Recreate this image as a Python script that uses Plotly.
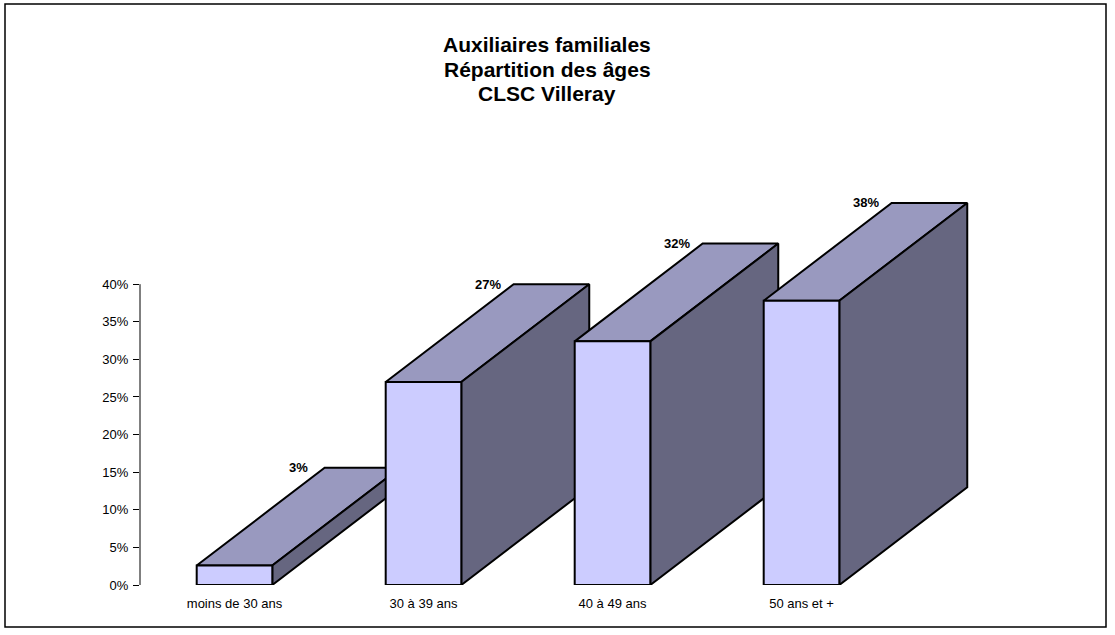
import plotly.graph_objects as go

# ---- data ----
categories = ["moins de 30 ans", "30 à 39 ans", "40 à 49 ans", "50 ans et +"]
values = [2.6, 27.0, 32.4, 37.8]          # percent
value_labels = [f"{round(v)}%" for v in values]
y_ticks = [0, 5, 10, 15, 20, 25, 30, 35, 40]
y_ticktext = [f"{t}%" for t in y_ticks]
title_lines = ["Auxiliaires familiales", "Répartition des âges", "CLSC Villeray"]

# ---- style / geometry ----
W, H = 1115, 635
ML, MR, MT, MB = 140, 30, 171, 50
PW, PH = W - ML - MR, H - MT - MB
XRANGE = [-0.5, 4.5]
YRANGE = [0, 55.05]
HALF_W = 0.2          # half bar width in category units
DX = 0.677            # depth offset in x (category units)
DY = 13.0             # depth offset in y (percent units)
FRONT = "#CCCCFF"
TOP = "#9999BF"
SIDE = "#666680"
EDGE = "black"
FONT = "Liberation Sans, Arial, sans-serif"


def px_x(p):
    return (p - ML) / PW


def px_y(p):
    return (H - MB - p) / PH


fig = go.Figure()


def poly(xs, ys, color):
    fig.add_trace(go.Scatter(
        x=xs + [xs[0]], y=ys + [ys[0]], mode="lines", fill="toself",
        fillcolor=color, line=dict(color=EDGE, width=2),
        hoverinfo="skip", showlegend=False))


for i, v in enumerate(values):
    x0, x1 = i - HALF_W, i + HALF_W
    poly([x0, x1, x1 + DX, x0 + DX], [v, v, v + DY, v + DY], TOP)     # top face
    poly([x1, x1 + DX, x1 + DX, x1], [0, DY, v + DY, v], SIDE)        # side face
    poly([x0, x1, x1, x0], [0, 0, v, v], FRONT)                       # front face
    fig.add_annotation(x=x0 + DX, y=v + DY, text=f"<b>{value_labels[i]}</b>",
                       showarrow=False, xanchor="center", yanchor="middle",
                       xshift=-26, font=dict(family=FONT, size=13, color="black"))

# y axis line from 0 to the last tick
fig.add_shape(type="line", xref="paper", yref="y", x0=0, x1=0,
              y0=y_ticks[0], y1=y_ticks[-1], line=dict(color="black", width=1))

# outer frame
fig.add_shape(type="rect", xref="paper", yref="paper",
              x0=px_x(5), x1=px_x(1106), y0=px_y(627), y1=px_y(4),
              line=dict(color="black", width=1.5), layer="below")

# title, one annotation per line
for t, yc in zip(title_lines, [45, 69, 93]):
    fig.add_annotation(xref="paper", yref="paper", x=px_x(547), y=px_y(yc),
                       text=f"<b>{t}</b>", showarrow=False,
                       xanchor="center", yanchor="middle",
                       font=dict(family=FONT, size=21, color="black"))

fig.update_layout(
    width=W, height=H, autosize=False,
    margin=dict(l=ML, r=MR, t=MT, b=MB),
    paper_bgcolor="white", plot_bgcolor="rgba(0,0,0,0)",
    font=dict(family=FONT, size=13, color="black"),
    xaxis=dict(range=XRANGE, tickvals=list(range(len(categories))), ticktext=categories,
               showgrid=False, zeroline=False, showline=False, ticks="",
               ticklabelstandoff=9, tickfont=dict(size=13), fixedrange=True),
    yaxis=dict(range=YRANGE, tickvals=y_ticks, ticktext=y_ticktext,
               showgrid=False, zeroline=False, showline=False,
               ticks="outside", ticklen=6, tickcolor="black", tickwidth=1,
               ticklabelstandoff=2, tickfont=dict(size=13), fixedrange=True),
)

fig.write_html("out.html", config={"displayModeBar": False},
               post_script="document.body.style.margin='0';document.body.style.overflow='hidden';")
